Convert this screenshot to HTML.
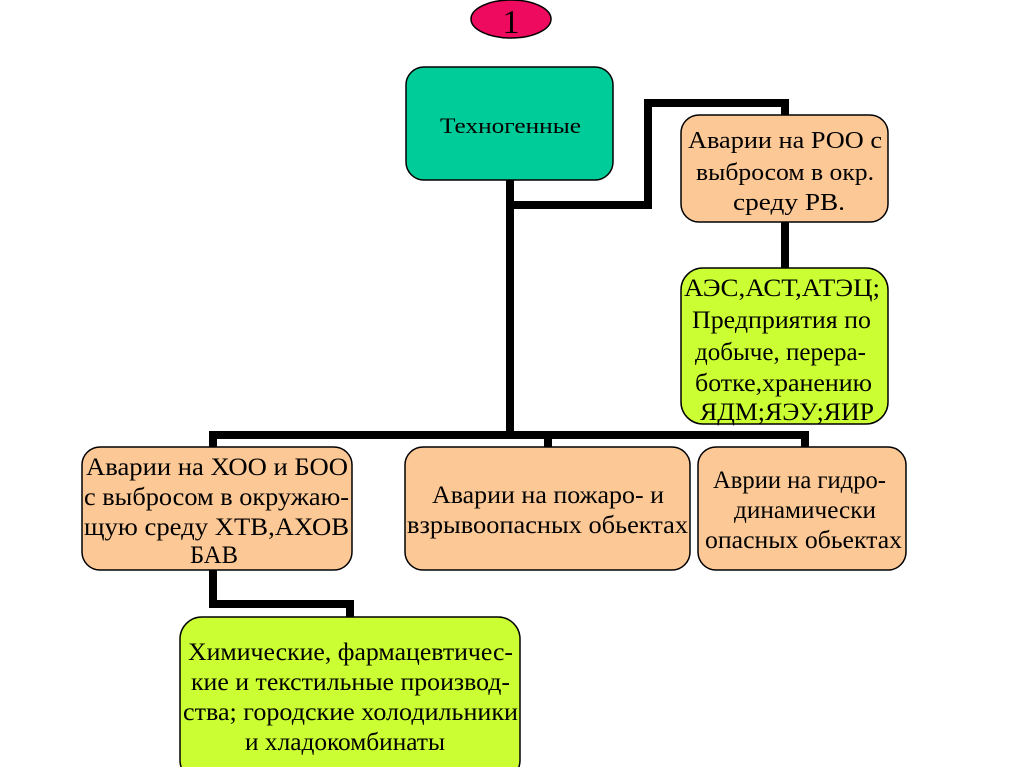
<!DOCTYPE html>
<html><head><meta charset="utf-8"><style>html,body{margin:0;padding:0;background:#fff}svg{display:block;font-family:"Liberation Serif",serif}text{font-family:"Liberation Serif",serif}</style></head>
<body>
<svg width="1024" height="767" viewBox="0 0 1024 767" xmlns="http://www.w3.org/2000/svg" fill="#000">
<rect width="1024" height="767" fill="#fff"/>
<g stroke="#000" stroke-width="8" fill="none" stroke-linejoin="miter">
<polyline points="510,180 510,435"/>
<polyline points="510,205 648,205 648,103 785,103 785,115"/>
<polyline points="785,222 785,268"/>
<polyline points="213,447 213,435 805,435 805,447"/>
<polyline points="548,435 548,447"/>
<polyline points="213,570 213,604 350,604 350,617"/>
</g>
<ellipse cx="511" cy="19" rx="40" ry="19" fill="#ee0a5e" stroke="#000" stroke-width="1.5"/>
<text x="511" y="33" font-size="34" text-anchor="middle">1</text>
<g stroke="#000" stroke-width="1.5">
<rect x="406" y="67" width="207" height="113" rx="18" fill="#00cc99"/>
<rect x="681" y="115" width="207" height="107" rx="18" fill="#fcc896"/>
<rect x="681" y="268" width="207" height="156" rx="22" fill="#ccff33"/>
<rect x="82" y="447" width="270" height="123" rx="18" fill="#fcc896"/>
<rect x="405" y="447" width="285" height="123" rx="18" fill="#fcc896"/>
<rect x="698" y="447" width="208" height="123" rx="18" fill="#fcc896"/>
<rect x="180" y="617" width="340" height="165" rx="22" fill="#ccff33"/>
</g>
<g font-size="22">
<text x="440" y="133" textLength="141" lengthAdjust="spacingAndGlyphs" font-size="22">Техногенные</text>
<text x="688" y="148" textLength="194" lengthAdjust="spacingAndGlyphs" font-size="24">Аварии на РОО с</text>
<text x="696" y="180" textLength="178" lengthAdjust="spacingAndGlyphs" font-size="24">выбросом в окр.</text>
<text x="733" y="210" textLength="112" lengthAdjust="spacingAndGlyphs" font-size="24">среду РВ.</text>
<text x="684" y="296" textLength="196" lengthAdjust="spacingAndGlyphs" font-size="25">АЭС,АСТ,АТЭЦ;</text>
<text x="692" y="328" textLength="179" lengthAdjust="spacingAndGlyphs" font-size="25">Предприятия по</text>
<text x="695" y="360" textLength="171" lengthAdjust="spacingAndGlyphs" font-size="25">добыче, перера-</text>
<text x="695" y="391" textLength="177" lengthAdjust="spacingAndGlyphs" font-size="25">ботке,хранению</text>
<text x="700" y="420" textLength="174" lengthAdjust="spacingAndGlyphs" font-size="25">ЯДМ;ЯЭУ;ЯИР</text>
<text x="86" y="475" textLength="262" lengthAdjust="spacingAndGlyphs" font-size="25">Аварии на ХОО и БОО</text>
<text x="84" y="505" textLength="265" lengthAdjust="spacingAndGlyphs" font-size="25">с выбросом в окружаю-</text>
<text x="84" y="535" textLength="265" lengthAdjust="spacingAndGlyphs" font-size="25">щую  среду ХТВ,АХОВ</text>
<text x="190" y="563" textLength="48" lengthAdjust="spacingAndGlyphs" font-size="25">БАВ</text>
<text x="432" y="503" textLength="232" lengthAdjust="spacingAndGlyphs" font-size="25">Аварии на пожаро- и</text>
<text x="407" y="533" textLength="281" lengthAdjust="spacingAndGlyphs" font-size="25">взрывоопасных обьектах</text>
<text x="713" y="488" textLength="173" lengthAdjust="spacingAndGlyphs" font-size="25">Аврии на гидро-</text>
<text x="734" y="518" textLength="142" lengthAdjust="spacingAndGlyphs" font-size="25">динамически</text>
<text x="705" y="548" textLength="197" lengthAdjust="spacingAndGlyphs" font-size="25">опасных обьектах</text>
<text x="188" y="660" textLength="325" lengthAdjust="spacingAndGlyphs" font-size="25">Химические, фармацевтичес-</text>
<text x="191" y="690" textLength="319" lengthAdjust="spacingAndGlyphs" font-size="25">кие и текстильные производ-</text>
<text x="183" y="720" textLength="335" lengthAdjust="spacingAndGlyphs" font-size="25">ства; городские холодильники</text>
<text x="245" y="750" textLength="200" lengthAdjust="spacingAndGlyphs" font-size="25">и хладокомбинаты</text>
</g>
</svg>
</body></html>
